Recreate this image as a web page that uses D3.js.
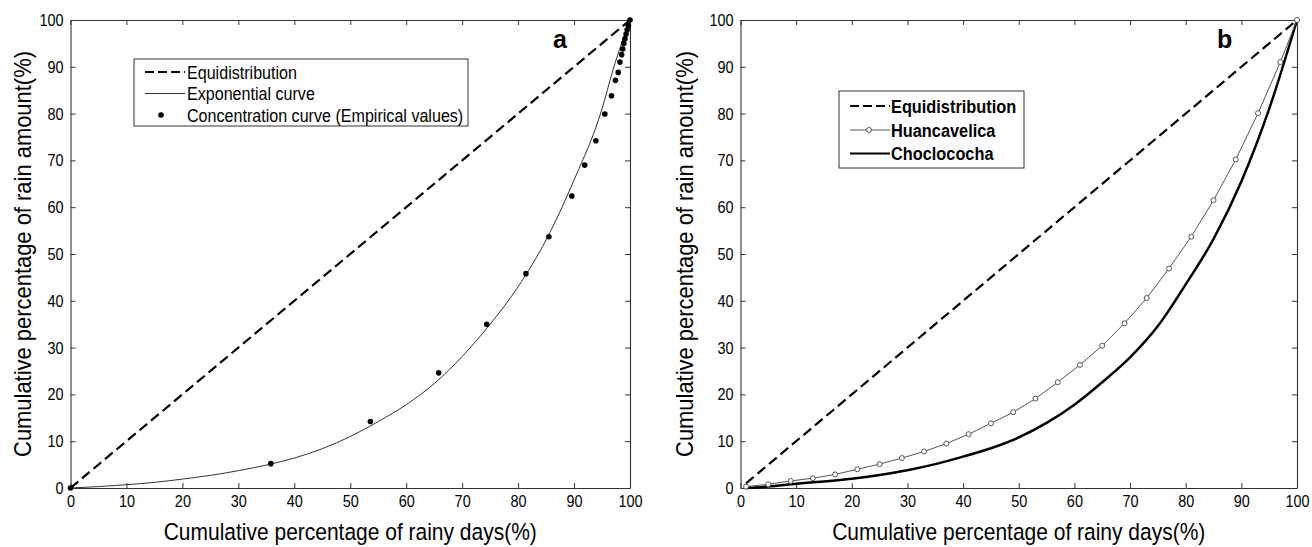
<!DOCTYPE html>
<html><head><meta charset="utf-8">
<script src="https://cdn.jsdelivr.net/npm/d3@7"></script>
<style>
body{margin:0;background:#fff}
text{font-family:Arial,"Liberation Sans",sans-serif;fill:#000}
</style>
</head><body>
<svg id="c" width="1312" height="547"></svg>
<script>
// ---------- data ----------
const tickValues = [0,10,20,30,40,50,60,70,80,90,100];
const tickLabels = ["0","10","20","30","40","50","60","70","80","90","100"];
const xLabel = "Cumulative percentage of rainy days(%)";
const yLabel = "Cumulative percentage of rain amount(%)";

// panel a
const equiAX = [0,100];
const equiAY = [0,100];
const expX = [0,5,10,15,20,25,30,35,40,45,50,55,60,65,70,75,80,85,90,95,97,100];
const expY = [0,0.3,0.7,1.2,1.9,2.7,3.7,4.9,6.4,8.4,11.0,14.2,17.8,22.3,28.1,35.0,43.0,53.0,65.8,81.0,89.5,100];
const empX = [0,35.8,53.6,65.8,74.4,81.4,85.5,89.6,91.9,93.9,95.5,96.7,97.4,97.9,98.2,98.5,98.7,98.9,99.1,99.3,99.5,99.7,100];
const empY = [0,5.2,14.2,24.6,35.0,45.8,53.7,62.4,69.0,74.2,79.9,83.8,87.1,88.8,91.0,92.6,93.8,95.0,96.0,97.0,97.9,98.8,100];
const legendA = ["Equidistribution","Exponential curve","Concentration curve (Empirical values)"];

// panel b
const equiBX = [1,100];
const equiBY = [1,100];
const huanX = [1,5,9,13,17,21,25,29,33,37,41,45,49,53,57,61,65,69,73,77,81,85,89,93,97,100];
const huanY = [0.3,0.8,1.5,2.1,2.9,4.0,5.1,6.4,7.8,9.5,11.5,13.8,16.2,19.1,22.6,26.3,30.4,35.2,40.6,46.9,53.7,61.5,70.2,80.1,91.0,100];
const chocX = [1,5,10,15,20,25,30,35,40,45,50,55,60,65,70,75,80,85,90,95,100];
const chocY = [0,0.3,0.9,1.4,2.0,2.8,3.8,5.1,6.7,8.5,10.8,13.9,17.8,22.6,27.9,34.6,43.5,53.2,65.5,81.0,100];
const legendB = ["Equidistribution","Huancavelica","Choclococha"];

// ---------- drawing ----------
const svg = d3.select("#c");
const zip = (xs, ys) => xs.map((v,i)=>[v, ys[i]]);
const FONT = "Arial, Liberation Sans, sans-serif";

function ctext(g, x, y, str, size, sx, opts={}){
  const t = g.append("text")
    .attr("transform", `translate(${x},${y})${opts.rot?` rotate(${opts.rot})`:""} scale(${sx},1)`)
    .attr("font-size", size).attr("font-family", FONT)
    .attr("text-anchor", opts.anchor || "start")
    .text(str);
  if (opts.bold) t.attr("font-weight","bold");
  return t;
}

function panel(o){
  const x = d3.scaleLinear().domain([0,100]).range([o.left,o.right]);
  const y = d3.scaleLinear().domain([0,100]).range([o.bottom,o.top]);
  const g = svg.append("g");
  const axCol = "#333";
  const TSX = 0.85;
  const mk = (ax, tr, labels) => {
    const a = g.append("g").attr("transform", tr)
      .call(ax.tickValues(tickValues).tickSizeInner(-5).tickSizeOuter(0).tickPadding(7)
        .tickFormat(labels ? (d,i)=>tickLabels[i] : ()=>""));
    a.selectAll("path.domain").attr("stroke", axCol).attr("stroke-width",1.1);
    a.selectAll(".tick line").attr("stroke", axCol).attr("stroke-width",1);
    a.selectAll("text").attr("font-size",17).attr("font-family",FONT).attr("fill","#000")
      .each(function(){
        const t = d3.select(this);
        const x0 = +t.attr("x") || 0;
        t.attr("x", x0/TSX).attr("transform", `scale(${TSX},1)`);
      });
    return a;
  };
  mk(d3.axisBottom(x), `translate(0,${o.bottom})`, true);
  mk(d3.axisTop(x), `translate(0,${o.top})`, false);
  mk(d3.axisLeft(y), `translate(${o.left},0)`, true);
  mk(d3.axisRight(y), `translate(${o.right},0)`, false);

  ctext(g, (o.left+o.right)/2, 540, xLabel, 23.5, 0.893, {anchor:"middle"});
  ctext(g, o.ylx, (o.top+o.bottom)/2, yLabel, 23.5, 0.934, {anchor:"middle", rot:-90});
  ctext(g, o.tagX, 48, o.tag, 25, 1, {bold:true});

  const line = d3.line().x(d=>x(d[0])).y(d=>y(d[1]));
  o.draw(g, x, y, line);
}

// panel a
panel({left:70.5,right:630,top:20,bottom:488,ylx:31,tag:"a",tagX:553,
  draw:(g,x,y,line)=>{
    g.append("path").datum(zip(equiAX,equiAY)).attr("d",line)
      .attr("fill","none").attr("stroke","#000").attr("stroke-width",2.2).attr("stroke-dasharray","10,5");
    g.append("path").datum(zip(expX,expY)).attr("d",d3.line().curve(d3.curveMonotoneX).x(d=>x(d[0])).y(d=>y(d[1])))
      .attr("fill","none").attr("stroke","#333").attr("stroke-width",1);
    g.selectAll("circle.emp").data(zip(empX,empY)).enter().append("circle")
      .attr("cx",d=>x(d[0])).attr("cy",d=>y(d[1])).attr("r",2.8).attr("fill","#000");
    // legend
    g.append("rect").attr("x",134).attr("y",59).attr("width",334).attr("height",67)
      .attr("fill","#fff").attr("stroke","#333").attr("stroke-width",1);
    const rows=[72,93.5,115];
    g.append("line").attr("x1",145).attr("x2",185).attr("y1",rows[0]).attr("y2",rows[0])
      .attr("stroke","#000").attr("stroke-width",2.2).attr("stroke-dasharray","9,4");
    g.append("line").attr("x1",145).attr("x2",185).attr("y1",rows[1]).attr("y2",rows[1])
      .attr("stroke","#333").attr("stroke-width",1);
    g.append("circle").attr("cx",161).attr("cy",rows[2]).attr("r",2.8).attr("fill","#000");
    legendA.forEach((t,i)=>ctext(g, 187, rows[i]+6.6, t, 18.5, 0.87));
  }});

// panel b
panel({left:740.5,right:1297,top:20,bottom:488,ylx:693,tag:"b",tagX:1217,
  draw:(g,x,y,line)=>{
    g.append("path").datum(zip(equiBX,equiBY)).attr("d",line)
      .attr("fill","none").attr("stroke","#000").attr("stroke-width",2.2).attr("stroke-dasharray","10,5");
    g.append("path").datum(zip(chocX,chocY)).attr("d",d3.line().curve(d3.curveMonotoneX).x(d=>x(d[0])).y(d=>y(d[1])))
      .attr("fill","none").attr("stroke","#000").attr("stroke-width",2.5);
    g.append("path").datum(zip(huanX,huanY)).attr("d",line)
      .attr("fill","none").attr("stroke","#555").attr("stroke-width",1);
    g.selectAll("circle.h").data(zip(huanX,huanY)).enter().append("circle")
      .attr("cx",d=>x(d[0])).attr("cy",d=>y(d[1])).attr("r",2.5)
      .attr("fill","#fff").attr("stroke","#555").attr("stroke-width",1);
    // legend
    g.append("rect").attr("x",839).attr("y",91).attr("width",185).attr("height",77)
      .attr("fill","#fff").attr("stroke","#333").attr("stroke-width",1);
    const rows=[106,130,153.5];
    g.append("line").attr("x1",850).attr("x2",890).attr("y1",rows[0]).attr("y2",rows[0])
      .attr("stroke","#000").attr("stroke-width",2.2).attr("stroke-dasharray","9,4");
    g.append("line").attr("x1",850).attr("x2",890).attr("y1",rows[1]).attr("y2",rows[1])
      .attr("stroke","#555").attr("stroke-width",1);
    g.append("circle").attr("cx",869).attr("cy",rows[1]).attr("r",2.5).attr("fill","#fff").attr("stroke","#555");
    g.append("line").attr("x1",850).attr("x2",890).attr("y1",rows[2]).attr("y2",rows[2])
      .attr("stroke","#000").attr("stroke-width",2.2);
    legendB.forEach((t,i)=>ctext(g, 891, rows[i]+6.8, t, 19, 0.86, {bold:true}));
  }});
</script>
</body></html>
